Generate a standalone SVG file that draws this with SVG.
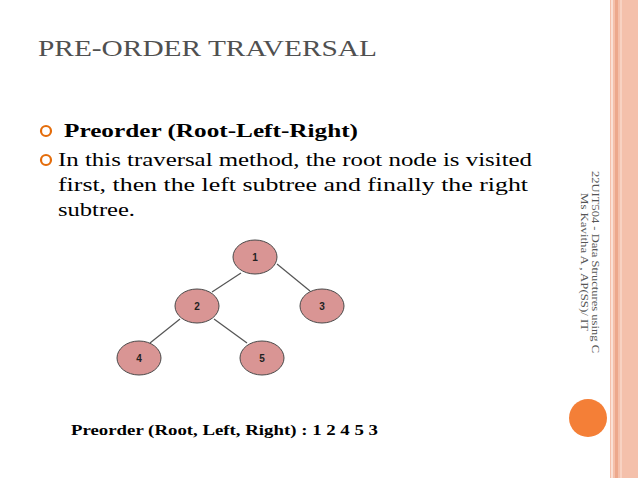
<svg xmlns="http://www.w3.org/2000/svg" width="638" height="478" viewBox="0 0 638 478">
<style>
.n ellipse{fill:#d99594;stroke:#4a4a4a;stroke-width:1}
.n text{font-family:"Liberation Sans",Arial,sans-serif;font-weight:bold;font-size:10px;fill:#222;text-anchor:middle}
.t{font-family:"Liberation Serif","Times New Roman",serif;fill:#000}
</style>
<rect width="638" height="478" fill="#fff"/>
<rect x="610" y="0" width="28" height="478" fill="#f4c0ab"/>
<rect x="611" y="0" width="2" height="478" fill="#fbe0d5"/>
<rect x="615" y="0" width="3" height="478" fill="#eda88c"/>
<rect x="620" y="0" width="2" height="478" fill="#f8d2c2"/>
<circle cx="588" cy="418" r="19" fill="#f47f37"/>
<text class="t" x="38" y="56" font-size="24" textLength="339" lengthAdjust="spacingAndGlyphs" style="fill:#505050">PRE-ORDER TRAVERSAL</text>
<circle cx="46" cy="131" r="5" fill="none" stroke="#e46c0a" stroke-width="2.2"/>
<circle cx="46" cy="160" r="5" fill="none" stroke="#e46c0a" stroke-width="2.2"/>
<text class="t" x="64" y="137" font-size="19" font-weight="bold" textLength="294" lengthAdjust="spacingAndGlyphs">Preorder (Root-Left-Right)</text>
<text class="t" x="58" y="166" font-size="19" textLength="474" lengthAdjust="spacingAndGlyphs">In this traversal method, the root node is visited</text>
<text class="t" x="58" y="191" font-size="19" textLength="470" lengthAdjust="spacingAndGlyphs">first, then the left subtree and finally the right</text>
<text class="t" x="58" y="216" font-size="19" textLength="77" lengthAdjust="spacingAndGlyphs">subtree.</text>
<text class="t" x="71" y="435" font-size="15" font-weight="bold" textLength="307" lengthAdjust="spacingAndGlyphs">Preorder (Root, Left, Right) : 1 2 4 5 3</text>
<g transform="translate(592,262) rotate(90)" font-family="Liberation Serif,serif" font-size="11" fill="#555" text-anchor="middle">
<text x="0" y="0" textLength="182" lengthAdjust="spacingAndGlyphs">22UIT504 - Data Structures using C</text>
<text x="0" y="11" textLength="138" lengthAdjust="spacingAndGlyphs">Ms Kavitha A , AP(SS)/ IT</text>
</g>
<g id="connectors" stroke="#555" stroke-width="1.2">
<line x1="241" y1="273" x2="212" y2="292"/>
<line x1="277" y1="264" x2="310" y2="291"/>
<line x1="180" y1="319" x2="150" y2="343"/>
<line x1="214" y1="319" x2="247" y2="343"/>
</g>
<g id="n1" class="n"><ellipse cx="255" cy="257" rx="22" ry="17"/><text x="255" y="261">1</text></g>
<g id="n2" class="n"><ellipse cx="197" cy="306" rx="22" ry="17"/><text x="197" y="310">2</text></g>
<g id="n3" class="n"><ellipse cx="322" cy="306" rx="22" ry="17"/><text x="322" y="310">3</text></g>
<g id="n4" class="n"><ellipse cx="139" cy="358" rx="22" ry="17"/><text x="139" y="362">4</text></g>
<g id="n5" class="n"><ellipse cx="262" cy="358" rx="22" ry="17"/><text x="262" y="362">5</text></g>
</svg>
